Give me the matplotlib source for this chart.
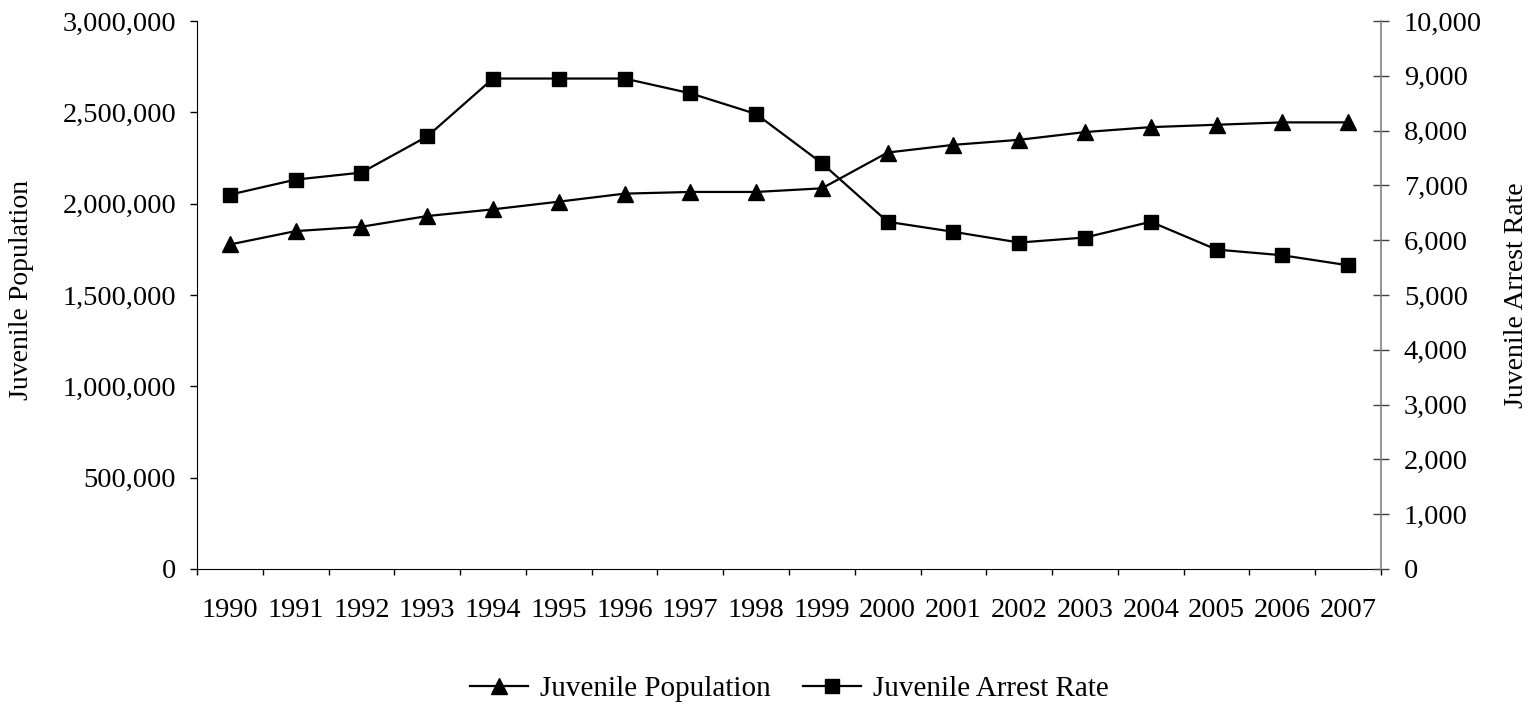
import matplotlib
matplotlib.use("Agg")
import matplotlib.pyplot as plt
from matplotlib.ticker import FuncFormatter, FixedLocator
import numpy as np

years = ["1990", "1991", "1992", "1993", "1994", "1995", "1996", "1997", "1998",
         "1999", "2000", "2001", "2002", "2003", "2004", "2005", "2006", "2007"]

juvenile_population = [1776600, 1849800, 1873600, 1932200, 1968900, 2011000,
                       2054900, 2064100, 2064100, 2084000, 2280000, 2322000,
                       2349600, 2391900, 2419000, 2432000, 2445000, 2445000]

juvenile_arrest_rate = [6831, 7106, 7234, 7894, 8950, 8950, 8950, 8681, 8303,
                        7405, 6336, 6153, 5957, 6049, 6336, 5829, 5725, 5542]

plt.rcParams["font.family"] = ["Liberation Serif", "DejaVu Serif"]
FS = 20.5

W, H = 1531, 704
fig = plt.figure(figsize=(W / 100, H / 100), dpi=100)
left, right, top, bottom = 197, 1381, 21, 569
ax = fig.add_axes([left / W, (H - bottom) / H, (right - left) / W, (bottom - top) / H])
ax2 = ax.twinx()

x = np.arange(len(years))

l1, = ax.plot(x, juvenile_population, color="black", lw=1.6, marker="^",
              ms=11.5, mfc="black", mec="black", label="Juvenile Population",
              clip_on=False, zorder=3)
l2, = ax2.plot(x, juvenile_arrest_rate, color="black", lw=1.6, marker="s",
               ms=9.5, mfc="black", mec="black", label="Juvenile Arrest Rate",
               clip_on=False, zorder=3)

ax.set_xlim(-0.5, len(years) - 0.5)
ax.set_ylim(0, 3000000)
ax2.set_ylim(0, 10000)

ax.set_yticks(np.arange(0, 3000001, 500000))
ax2.set_yticks(np.arange(0, 10001, 1000))
comma = FuncFormatter(lambda v, p: f"{int(v):,}")
ax.yaxis.set_major_formatter(comma)
ax2.yaxis.set_major_formatter(comma)

# category labels centred, tick marks on the category boundaries
ax.xaxis.set_major_locator(FixedLocator(np.arange(-0.5, len(years), 1.0)))
ax.set_xticklabels([""] * (len(years) + 1))
ax.xaxis.set_minor_locator(FixedLocator(x))
ax.set_xticklabels(years, minor=True)
ax.tick_params(axis="x", which="major", direction="out", length=4.5, width=1,
               color="black")
ax.tick_params(axis="x", which="minor", length=0, pad=21, labelsize=FS)

ax.tick_params(axis="y", direction="out", length=5, width=1, pad=10,
               labelsize=FS, color="black")
ax2.tick_params(axis="y", direction="inout", length=11, width=1, pad=11,
                labelsize=FS, color="#404040")

for a in (ax, ax2):
    a.spines["top"].set_visible(False)
ax.spines["left"].set_color("black")
ax.spines["bottom"].set_color("black")
ax.spines["right"].set_visible(False)
ax2.spines["left"].set_visible(False)
ax2.spines["bottom"].set_visible(False)
ax2.spines["right"].set_color("#808080")
ax2.spines["right"].set_linewidth(1.2)

ax.set_ylabel("Juvenile Population", fontsize=20)
ax2.set_ylabel("Juvenile Arrest Rate", fontsize=20)
ax.yaxis.set_label_coords((34 - left) / (right - left), 0.509)
ax2.yaxis.set_label_coords((1504 - left) / (right - left), 0.50)

fig.legend(handles=[l1, l2], loc="center", ncol=2, frameon=False,
           bbox_to_anchor=(789 / W, (H - 689) / H), fontsize=21,
           handlelength=2.0, handletextpad=0.4, columnspacing=1.1,
           borderaxespad=0, borderpad=0)

fig.savefig("out.png", dpi=100, facecolor="white")
